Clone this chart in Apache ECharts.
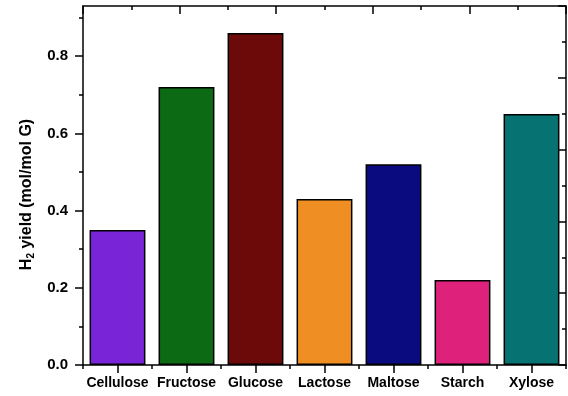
<!DOCTYPE html>
<html>
<head>
<meta charset="utf-8">
<script src="https://cdn.jsdelivr.net/npm/echarts@6/dist/echarts.min.js"></script>
<style>html,body{margin:0;padding:0;background:#fff}#c{width:568px;height:396px}</style>
</head>
<body>
<div id="c"></div>
<script>
var categories = ['Cellulose', 'Fructose', 'Glucose', 'Lactose', 'Maltose', 'Starch', 'Xylose'];
var yieldValues = [0.35, 0.72, 0.86, 0.43, 0.52, 0.22, 0.65];
var barColors = ['#7a24d8', '#0c6a14', '#6c0a0a', '#ef8e22', '#0b0b80', '#de227c', '#077272'];
var yMajorTicks = [0, 0.2, 0.4, 0.6, 0.8];
var yMinorTicks = [0.1, 0.3, 0.5, 0.7, 0.9];

var chart = echarts.init(document.getElementById('c'));
var font = 'Liberation Sans, Arial, sans-serif';
var lineStyle = {color: '#000', width: 1.5};
chart.setOption({
  animation: false,
  grid: {left: 83, right: 2, top: 6, bottom: 31, containLabel: false},
  xAxis: [
    {type: 'category', data: categories, position: 'bottom', offset: 0,
     axisLine: {onZero: false, lineStyle: lineStyle},
     axisTick: {show: true, interval: 0, length: 4, lineStyle: lineStyle},
     axisLabel: {interval: 0, color: '#000', fontFamily: font, fontWeight: 'bold', fontSize: 14, margin: 11}},
    {type: 'category', data: categories, position: 'bottom', offset: 0,
     axisLine: {show: false, onZero: false},
     axisTick: {show: true, interval: 0, alignWithLabel: true, length: 8, lineStyle: lineStyle},
     axisLabel: {show: false}},
    {type: 'value', position: 'top', min: 0, max: 10, interval: 2,
     axisLine: {show: true, onZero: false, lineStyle: lineStyle},
     axisTick: {show: true, inside: true, length: 8, lineStyle: lineStyle},
     minorTick: {show: true, splitNumber: 2, length: 4, lineStyle: lineStyle},
     axisLabel: {show: false}, splitLine: {show: false}}
  ],
  yAxis: [
    {type: 'value', position: 'left', min: 0, max: 0.93, interval: 0.2,
     name: 'H{sub|2} yield (mol/mol G)', nameLocation: 'middle', nameGap: 47,
     nameTextStyle: {color: '#000', fontFamily: font, fontWeight: 'bold', fontSize: 16,
       padding: [0, 0, 0, -18],
       rich: {sub: {fontSize: 10, fontFamily: font, fontWeight: 'bold', color: '#000', padding: [9, 0, 0, 0]}}},
     axisLine: {show: true, onZero: false, lineStyle: lineStyle},
     axisTick: {show: true, length: 8, lineStyle: lineStyle, customValues: yMajorTicks},
     axisLabel: {color: '#000', fontFamily: font, fontWeight: 'bold', fontSize: 15, margin: 15,
       customValues: yMajorTicks, formatter: function (v) { return v.toFixed(1); }},
     splitLine: {show: false}},
    {type: 'value', position: 'left', min: 0, max: 0.93, offset: 0,
     axisLine: {show: false, onZero: false},
     axisTick: {show: true, length: 4, lineStyle: lineStyle, customValues: yMinorTicks},
     axisLabel: {show: false}, splitLine: {show: false}},
    {type: 'value', position: 'right', min: 0, max: 10, interval: 2,
     axisLine: {show: true, onZero: false, lineStyle: lineStyle},
     axisTick: {show: true, inside: true, length: 8, lineStyle: lineStyle},
     minorTick: {show: true, splitNumber: 2, length: 4, lineStyle: lineStyle},
     axisLabel: {show: false}, splitLine: {show: false}}
  ],
  series: [{
    type: 'bar', xAxisIndex: 0, yAxisIndex: 0,
    barWidth: '81%',
    data: yieldValues.map(function (v, i) {
      return {value: v, itemStyle: {color: barColors[i]}};
    }),
    itemStyle: {borderColor: '#000', borderWidth: 1.5}
  }]
});
</script>
</body>
</html>
